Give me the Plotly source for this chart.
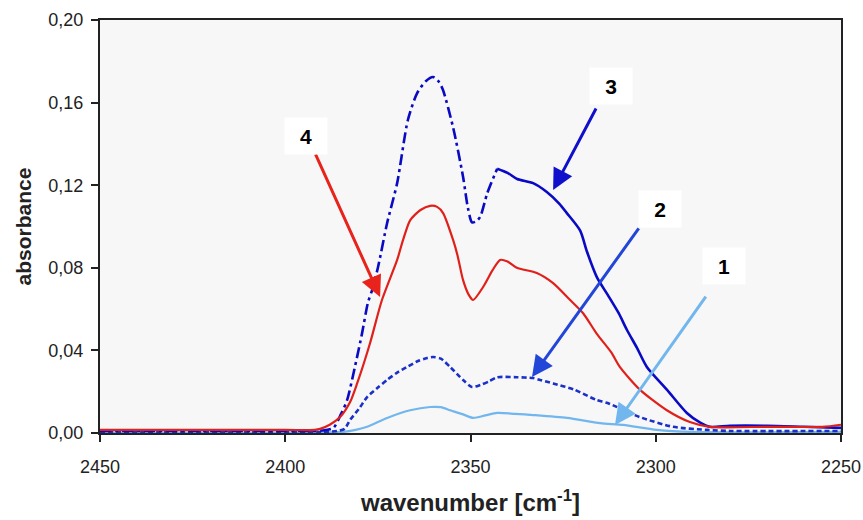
import plotly.graph_objects as go

# ---------------- data ----------------
wn3 = [2450, 2420, 2395, 2390, 2387, 2385, 2383.3, 2381.2, 2379.3, 2377.7, 2376.6, 2375, 2372.5,
       2369.8, 2366.9, 2364.4, 2362, 2360.1, 2358.5, 2357.4, 2354.7, 2352, 2350.7, 2349.6, 2348.5,
       2347.4, 2345.5, 2342.8,
       2340, 2337.4, 2333.1, 2329.4, 2326, 2324, 2320.4, 2318.6, 2315.9, 2313, 2310, 2307.8, 2305,
       2302.4, 2297, 2291.6, 2288, 2285.4, 2280, 2270, 2260, 2250]
abs3 = [0.001, 0.001, 0.001, 0.0012, 0.0025, 0.009, 0.016, 0.032, 0.048, 0.063, 0.069, 0.080, 0.1017,
        0.121, 0.1516, 0.1646, 0.1705, 0.1724, 0.170, 0.166, 0.148, 0.124, 0.109, 0.102, 0.1025,
        0.1046, 0.116, 0.128,
        0.126, 0.123, 0.121, 0.1167, 0.111, 0.1065, 0.098, 0.088, 0.0755, 0.067, 0.058, 0.050, 0.041,
        0.032, 0.021, 0.0097, 0.005, 0.003, 0.0035, 0.0035, 0.003, 0.0025]
split3 = 27  # index where curve 3 changes from dash-dot to solid

wn4 = [2450, 2400, 2392, 2390.6, 2388, 2385.2, 2382.5, 2380.6, 2377.1, 2373.9, 2369.8, 2368.2,
       2366.3, 2363.5, 2360.9, 2359, 2357.4, 2354.7, 2353.5, 2352, 2350.5, 2349.3, 2346.6, 2344,
       2342, 2340, 2337.5, 2332.1, 2327.7, 2323.1, 2319.6, 2315.9, 2312, 2309.7, 2304.3, 2297,
       2290.8, 2285.4, 2270, 2255, 2250]
abs4 = [0.0015, 0.0015, 0.0015, 0.002, 0.004, 0.0077, 0.015, 0.024, 0.0436, 0.0644, 0.0838, 0.0935,
        0.103, 0.108, 0.110, 0.1095, 0.1065, 0.0935, 0.086, 0.074, 0.067, 0.0644, 0.0707, 0.079,
        0.0838, 0.083, 0.080, 0.0775, 0.0726, 0.0644, 0.058, 0.048, 0.039, 0.032, 0.021, 0.011,
        0.0053, 0.003, 0.003, 0.003, 0.004]

wn2 = [2450, 2390, 2386, 2384, 2382.5, 2380, 2377.9, 2375, 2372.5, 2370, 2367.1, 2364, 2361.7,
       2360.1, 2358, 2355.5, 2352, 2349.6, 2347.4, 2345, 2342.8, 2337.5, 2333.1, 2331.2, 2327.7,
       2322, 2316, 2313, 2304.3, 2295.3, 2286.2, 2280, 2250]
abs2 = [0.0005, 0.0005, 0.001, 0.002, 0.0063, 0.012, 0.0174, 0.022, 0.0257, 0.029, 0.032, 0.035,
        0.0363, 0.0368, 0.036, 0.032, 0.0257, 0.0223, 0.0232, 0.025, 0.027, 0.027, 0.0266, 0.0257,
        0.024, 0.021, 0.016, 0.0145, 0.0077, 0.003, 0.0015, 0.001, 0.001]

wn1 = [2450, 2390, 2384.4, 2381, 2377.9, 2372.5, 2366.3, 2360.9, 2358, 2355.5, 2352, 2349.3, 2346,
       2342.8, 2338, 2333.1, 2323.9, 2315, 2308.8, 2299.7, 2290, 2250]
abs1 = [0.0003, 0.0003, 0.0005, 0.0015, 0.003, 0.0073, 0.011, 0.0126, 0.0125, 0.011, 0.009, 0.0073,
        0.0085, 0.0097, 0.0093, 0.0087, 0.0073, 0.0048, 0.0039, 0.0015, 0.0005, 0.0005]

x_ticks = [2450, 2400, 2350, 2300, 2250]
x_ticktext = ["2450", "2400", "2350", "2300", "2250"]
y_ticks = [0.0, 0.04, 0.08, 0.12, 0.16, 0.20]
y_ticktext = ["0,00", "0,04", "0,08", "0,12", "0,16", "0,20"]

# curve labels: (text, label x, label y, arrow tail x, tail y, head x, head y, colour)
labels = [
    ("4", 2394.5, 0.1440, 2392.0, 0.1356, 2374.4, 0.0659, "#e8231c"),
    ("3", 2312.0, 0.1680, 2315.9, 0.1579, 2327.7, 0.1177, "#1010cc"),
    ("2", 2298.9, 0.1085, 2304.3, 0.0998, 2333.4, 0.0271, "#2246d8"),
    ("1", 2281.5, 0.0810, 2286.2, 0.0668, 2311.0, 0.0039, "#72b6ee"),
]

# ---------------- figure ----------------
SM = 0.7
fig = go.Figure()
fig.add_trace(go.Scatter(x=wn1, y=abs1, mode="lines",
                         line=dict(color="#72b6ee", width=2.2, shape="spline", smoothing=SM), name="1"))
fig.add_trace(go.Scatter(x=wn2, y=abs2, mode="lines",
                         line=dict(color="#1a30c8", width=2.6, dash="5px,3px", shape="spline",
                                   smoothing=SM), name="2"))
fig.add_trace(go.Scatter(x=wn3[:split3 + 1], y=abs3[:split3 + 1], mode="lines",
                         line=dict(color="#0a0ac4", width=2.6, dash="11px,4px,3px,4px",
                                   shape="spline", smoothing=SM), name="3"))
fig.add_trace(go.Scatter(x=wn3[split3:], y=abs3[split3:], mode="lines",
                         line=dict(color="#0a0ac4", width=2.6, shape="spline", smoothing=SM), name="3"))
fig.add_trace(go.Scatter(x=wn4, y=abs4, mode="lines",
                         line=dict(color="#e0201a", width=2.2, shape="spline", smoothing=SM), name="4"))

annotations = []
for txt, lx, ly, tx, ty, hx, hy, col in labels:
    annotations.append(dict(x=hx, y=hy, ax=tx, ay=ty, xref="x", yref="y", axref="x", ayref="y",
                            text="", showarrow=True, arrowhead=2, arrowsize=1.4, arrowwidth=3,
                            arrowcolor=col, standoff=0, startstandoff=0))
    annotations.append(dict(x=lx, y=ly, xref="x", yref="y", text="<b>%s</b>" % txt,
                            showarrow=False, bgcolor="white", width=40, height=34,
                            font=dict(family="Arial, Liberation Sans", size=21, color="black")))

fig.update_layout(
    width=863, height=520,
    margin=dict(l=100, r=22, t=20, b=87),
    paper_bgcolor="white",
    plot_bgcolor="#f7f7f7",
    showlegend=False,
    hovermode=False,
    font=dict(family="Arial, Liberation Sans", color="#222222"),
    annotations=annotations,
    xaxis=dict(range=[2450, 2250], tickvals=x_ticks, ticktext=x_ticktext, automargin=False,
               showgrid=False, zeroline=False, showline=True, linecolor="#222222", linewidth=2,
               mirror=True, ticks="outside", ticklen=7, tickwidth=1.5, tickcolor="#222222",
               tickfont=dict(size=18), ticklabelstandoff=9,
               title=dict(text="<b>wavenumber [cm<sup>-1</sup>]</b>", font=dict(size=24),
                          standoff=19)),
    yaxis=dict(range=[0, 0.20], tickvals=y_ticks, ticktext=y_ticktext, automargin=False,
               showgrid=False, zeroline=False, showline=True, linecolor="#222222", linewidth=2,
               mirror=True, ticks="outside", ticklen=7, tickwidth=1.5, tickcolor="#222222",
               tickfont=dict(size=18), ticklabelstandoff=4,
               title=dict(text="<b>absorbance</b>", font=dict(size=21), standoff=11)),
)

# remove the default page margin so the 863x520 figure fills the window exactly
fig.write_html("out.html", config={"displayModeBar": False},
               post_script="document.body.style.margin='0';document.body.style.overflow='hidden';")
